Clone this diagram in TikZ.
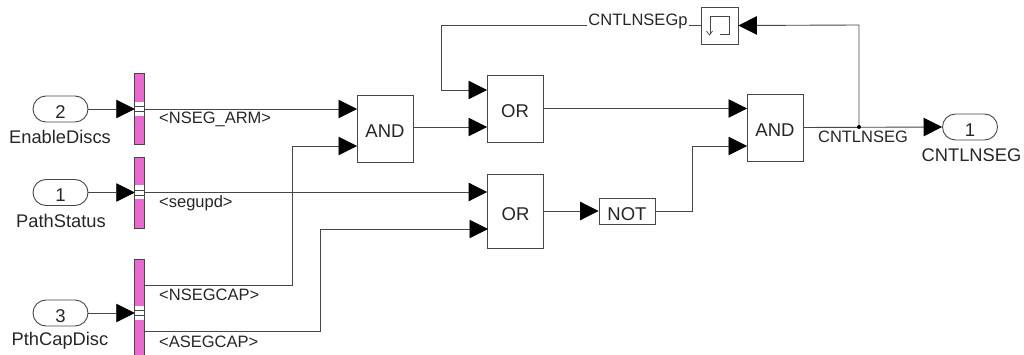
\documentclass[tikz,border=0pt]{standalone}
\usepackage{fontspec}
\setmainfont{Liberation Sans}
\usetikzlibrary{arrows.meta}
\definecolor{busc}{RGB}{232,106,206}
\definecolor{ln}{RGB}{70,70,70}
\tikzset{
  x=1pt,y=-1pt,
  wire/.style={draw=ln,line width=0.9pt},
  arrowwire/.style={wire,-{Triangle[length=18.5pt,width=18.5pt,fill=black,color=black]}},
  gate/.style={draw=ln,line width=0.9pt,fill=white,minimum width=56pt,minimum height=67pt,inner sep=0pt,text height=18.5pt,text depth=0pt,font=\fontsize{18.5}{18.5}\selectfont,text=black!85},
  port/.style={draw=ln,line width=0.9pt,rounded corners=13pt,minimum width=55pt,minimum height=26pt,inner sep=0pt,text height=18.5pt,text depth=0pt,font=\fontsize{18.5}{18.5}\selectfont,text=black!85},
  bus/.style={draw=ln,line width=0.9pt,fill=busc,minimum width=9.5pt,inner sep=0pt},
  lab/.style={inner sep=0pt,font=\fontsize{16.5}{16.5}\selectfont,text=black!85},
  blab/.style={inner sep=0pt,font=\fontsize{18.3}{18.3}\selectfont,text=black!85},
  slot/.style={fill=white,minimum width=8.5pt,minimum height=14pt,inner sep=0pt},
  slotline/.style={draw=ln,line width=0.6pt}
}
\begin{document}
\begin{tikzpicture}
\useasboundingbox (0,0) rectangle (1024,355);
% blocks
\node[port] (p2) at (60.5,109) {2};
\node[port] (p1) at (60.5,192.5) {1};
\node[port] (p3) at (60.5,313) {3};
\node[port] (pout) at (970,127) {1};
\node[bus,minimum height=71pt] (b1) at (139.5,108.5) {};
\node[bus,minimum height=71pt] (b2) at (139.5,192.5) {};
\path[draw=ln,line width=0.9pt,fill=busc] (134.75,360) -- (134.75,259) -- (144.25,259) -- (144.25,360);
\coordinate (b3) at (134.75,313);
\coordinate (b3a) at (144.25,285);
\coordinate (b3b) at (144.25,331);
\foreach \n/\y in {a/109,c/192.5,e/313}{
  \node[slot] (s\n) at (139.5,\y) {};
  \draw[slotline] (134.75,\y-2.5) -- (144.25,\y-2.5);
  \draw[slotline] (134.75,\y+2.5) -- (144.25,\y+2.5);
}
\node[gate] (and1) at (385,128.5) {AND};
\node[gate] (or1) at (515,108.5) {OR};
\node[gate,minimum height=74pt] (or2) at (515.5,211) {OR};
\node[gate] (and2) at (775,127.5) {AND};
\node[gate,minimum height=26pt] (not) at (627,211) {NOT};
\node[gate,minimum width=37pt,minimum height=37pt] (ud) at (719.5,25.5) {};
\coordinate (j) at (859,127);
\coordinate (c1) at (441,25);
\coordinate (c2) at (292,146);
\coordinate (c3) at (320,229);
\coordinate (c4) at (692,146);
\coordinate (t) at (859,25);
% wires
\draw[arrowwire] (p2.east) -- (134.75,109);
\draw[arrowwire] (p1.east) -- (134.75,192.5);
\draw[arrowwire] (p3.east) -- (b3);
\draw[arrowwire] (144.25,109) -- (357,109);
\draw[arrowwire] (144.25,192) -- (or2.west |- 0,192);
\draw[arrowwire] (b3a) -- (292,285) -- (c2) -- (357,146);
\draw[arrowwire] (b3b) -- (320,331) -- (c3) -- (488,229);
\draw[arrowwire] (and1.east |- 0,127) -- (487,127);
\draw[arrowwire] (or1.east) -- (747,108.5);
\draw[arrowwire] (or2.east) -- (not.west);
\draw[arrowwire] (not.east) -- (692,211) -- (c4) -- (747,146);
\draw[arrowwire] (and2.east) -- (pout.west);
\draw[arrowwire] (j) -- (t) -- (ud.east);
\draw[wire] (ud.west) -- (441,25.5);
\draw[arrowwire] (441,25.5) -- (441,90) -- (487,90);
\fill[black] (j) circle (2pt);
% delay glyph
\draw[ln,line width=0.8pt] (710,34) -- (710,16) -- (729,16) -- (729,34.5) -- (720,34.5);
\draw[ln,line width=0.7pt] (706.5,31) -- (709.5,35) -- (712.5,31);
% labels
\node[blab] (l1) at (60,137) {EnableDiscs};
\node[blab] (l2) at (61,221) {PathStatus};
\node[blab] (l3) at (60,341) {PthCapDisc};
\node[lab,anchor=west] (l4) at (159,119) {<NSEG\_ARM>};
\node[lab,anchor=west] (l5) at (159,203) {<segupd>};
\node[lab,anchor=west] (l6) at (159,295) {<NSEGCAP>};
\node[lab,anchor=west] (l7) at (159,342) {<ASEGCAP>};
\node[lab] (l8) at (863,137) {CNTLNSEG};
\node[blab] (l9) at (971.5,155) {CNTLNSEG};
\node[lab,fill=white,inner xsep=1pt] (l10) at (638,21) {CNTLNSEGp};
\end{tikzpicture}
\end{document}
